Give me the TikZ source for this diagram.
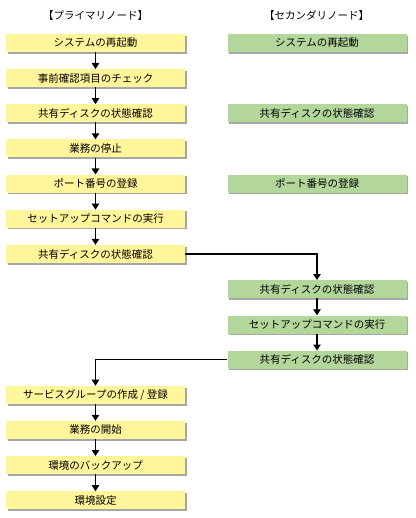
\documentclass[tikz,border=0pt]{standalone}
\usepackage{fontspec}
\setmainfont{Noto Sans CJK JP}
\usetikzlibrary{arrows.meta,shadows,positioning}

\definecolor{prifill}{HTML}{FFF59A}
\definecolor{secfill}{HTML}{B3D69B}

\tikzset{
  stepbox/.style={minimum width=179pt, minimum height=18pt, inner sep=0pt,
    font=\fontsize{10.5}{12}\selectfont,
    drop shadow={shadow xshift=1.6pt, shadow yshift=-1.6pt, fill=black!35, opacity=1}},
  pri/.style={stepbox, fill=prifill},
  sec/.style={stepbox, fill=secfill},
  flow/.style={line width=1.1pt, -{Triangle[length=6pt,width=7.5pt]}},
}

\begin{document}
\begin{tikzpicture}[x=1pt,y=-1pt]
\useasboundingbox (0,0) rectangle (415,518);

% headers
\node (hp) at (95.5, 16) [font=\fontsize{10.5}{12}\selectfont] {【プライマリノード】};
\node (hs) at (316.5, 16) [font=\fontsize{10.5}{12}\selectfont] {【セカンダリノード】};

% primary node
\node (p1) at (95.5, 43.0) [pri] {システムの再起動};
\node (p2) at (95.5, 78.2) [pri] {事前確認項目のチェック};
\node (p3) at (95.5, 113.3) [pri] {共有ディスクの状態確認};
\node (p4) at (95.5, 148.5) [pri] {業務の停止};
\node (p5) at (95.5, 183.7) [pri] {ポート番号の登録};
\node (p6) at (95.5, 218.8) [pri] {セットアップコマンドの実行};
\node (p7) at (95.5, 254.0) [pri] {共有ディスクの状態確認};
\node (p8) at (95.5, 394.9) [pri] {サービスグループの作成 / 登録};
\node (p9) at (95.5, 430.0) [pri] {業務の開始};
\node (p10) at (95.5, 465.2) [pri] {環境のバックアップ};
\node (p11) at (95.5, 500.4) [pri] {環境設定};

% secondary node
\node (s1) at (317, 43.0) [sec] {システムの再起動};
\node (s2) at (317, 113.3) [sec] {共有ディスクの状態確認};
\node (s3) at (317, 183.7) [sec] {ポート番号の登録};
\node (s4) at (317, 289.2) [sec] {共有ディスクの状態確認};
\node (s5) at (317, 324.5) [sec] {セットアップコマンドの実行};
\node (s6) at (317, 359.7) [sec] {共有ディスクの状態確認};

% arrows
\foreach \a/\b in {p1/p2,p2/p3,p3/p4,p4/p5,p5/p6,p6/p7,p8/p9,p9/p10,p10/p11,s4/s5,s5/s6}
  \draw[flow] (\a) -- (\b);
\draw[flow] (p7.east) -| (s4.north);
\draw[flow] (s6.west) -| (p8.north);

\end{tikzpicture}
\end{document}
